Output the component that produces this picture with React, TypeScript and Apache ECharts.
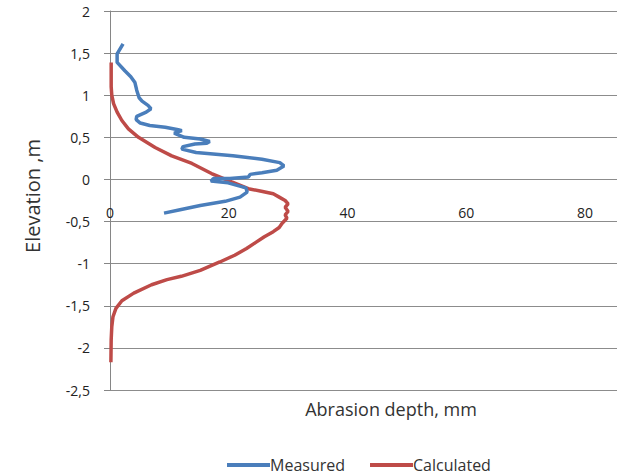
import React, { useEffect, useRef } from "react";
import * as echarts from "echarts";

const measuredDepth = [2.2, 1.2, 1.2, 2.5, 3.5, 4.2, 4.5, 4.9, 5.4, 6.4, 6.9, 6.1, 4.5, 4.4, 5.1, 6.7, 9.3, 11.5, 12.1, 10.8, 12.5, 15.2, 16.8, 16.3, 14.3, 12.3, 12.1, 14.5, 20.7, 25.6, 28.6, 29.3, 28.1, 25.6, 23.6, 23.3, 20.2, 17.4, 17.0, 19.9, 22.9, 23.1, 21.9, 19.4, 15.2, 11.8, 9.1];
const measuredElev = [1.61, 1.49, 1.39, 1.29, 1.22, 1.15, 1.06, 0.97, 0.93, 0.88, 0.84, 0.8, 0.75, 0.71, 0.67, 0.64, 0.62, 0.59, 0.58, 0.55, 0.5, 0.48, 0.45, 0.43, 0.42, 0.39, 0.36, 0.32, 0.28, 0.24, 0.2, 0.16, 0.11, 0.08, 0.06, 0.03, 0.01, 0.01, -0.02, -0.04, -0.1, -0.15, -0.21, -0.26, -0.31, -0.36, -0.4];

const calcDepth = [0.2, 0.2, 0.2, 0.3, 0.6, 1.2, 2.0, 3.1, 4.8, 7.6, 10.4, 13.8, 17.1, 20.5, 23.3, 25.5, 27.5, 28.5, 29.5, 30.0, 29.5, 30.0, 29.5, 29.8, 29.0, 28.5, 27.5, 26.0, 24.5, 23.0, 21.0, 18.5, 15.2, 12.0, 9.6, 7.0, 4.0, 2.0, 1.0, 0.5, 0.3, 0.2, 0.15];
const calcElev = [1.39, 1.25, 1.1, 1.0, 0.9, 0.8, 0.7, 0.6, 0.5, 0.38, 0.28, 0.19, 0.07, -0.03, -0.11, -0.14, -0.17, -0.21, -0.25, -0.29, -0.33, -0.38, -0.42, -0.46, -0.52, -0.57, -0.62, -0.68, -0.75, -0.82, -0.9, -0.98, -1.08, -1.15, -1.19, -1.25, -1.35, -1.44, -1.53, -1.63, -1.75, -1.9, -2.17];

const seriesNames = ["Measured", "Calculated"];
const xTitle = "Abrasion depth, mm";
const yTitle = "Elevation ,m";

const FONT = "'Open Sans', sans-serif";

export default function App() {
  const ref = useRef<HTMLDivElement>(null);
  useEffect(() => {
    if (!ref.current) return;
    const chart = echarts.init(ref.current, undefined, { renderer: "svg" });
    const measured = measuredDepth.map((d, i) => [d, measuredElev[i]]);
    const calc = calcDepth.map((d, i) => [d, calcElev[i]]);
    chart.setOption({
      animation: false,
      backgroundColor: "#ffffff",
      textStyle: { fontFamily: FONT },
      grid: { left: 110, right: 0, top: 11, bottom: 86, containLabel: false },
      xAxis: {
        type: "value",
        position: "bottom",
        offset: -211,
        min: 0,
        max: 85.4,
        interval: 20,
        axisLine: { show: false, onZero: false },
        axisTick: { show: false },
        splitLine: { show: false },
        axisLabel: {
          margin: 26,
          fontSize: 14,
          color: "#222",
          fontFamily: FONT,
          showMaxLabel: false,
          formatter: (v: number) => (v % 20 === 0 ? String(v) : ""),
        },
      },
      yAxis: {
        type: "value",
        min: -2.5,
        max: 2,
        interval: 0.5,
        axisLine: { show: true, onZero: false, lineStyle: { color: "#868686", width: 1 } },
        axisTick: { show: true, length: 6, lineStyle: { color: "#868686" } },
        splitLine: { show: true, lineStyle: { color: "#8c8c8c", width: 1 } },
        axisLabel: {
          margin: 20,
          fontSize: 14,
          color: "#222",
          fontFamily: FONT,
          formatter: (v: number) => String(v).replace(".", ","),
        },
      },
      legend: {
        left: 222,
        top: 452,
        icon: "rect",
        itemWidth: 43,
        itemHeight: 4,
        itemGap: 25,
        textStyle: { fontSize: 16, color: "#333", fontFamily: FONT, padding: [0, 0, 0, -5] },
        data: seriesNames,
      },
      graphic: [
        {
          type: "text",
          x: 391,
          y: 409,
          style: { text: xTitle, fontSize: 18, fill: "#333", align: "center", verticalAlign: "middle", fontFamily: FONT },
        },
        {
          type: "text",
          x: 32,
          y: 196,
          rotation: Math.PI / 2,
          style: { text: yTitle, fontSize: 20, fill: "#333", align: "center", verticalAlign: "middle", fontFamily: FONT },
        },
      ],
      series: [
        {
          name: seriesNames[0],
          type: "line",
          data: measured,
          showSymbol: false,
          symbol: "none",
          lineStyle: { color: "#4A7EBB", width: 3.5 },
          itemStyle: { color: "#4A7EBB" },
          z: 3,
        },
        {
          name: seriesNames[1],
          type: "line",
          data: calc,
          showSymbol: false,
          symbol: "none",
          lineStyle: { color: "#BE4B48", width: 3.5 },
          itemStyle: { color: "#BE4B48" },
          z: 2,
        },
      ],
    });
    return () => chart.dispose();
  }, []);
  return <div ref={ref} style={{ width: 617, height: 476, position: "absolute", left: 0, top: 0 }} />;
}
